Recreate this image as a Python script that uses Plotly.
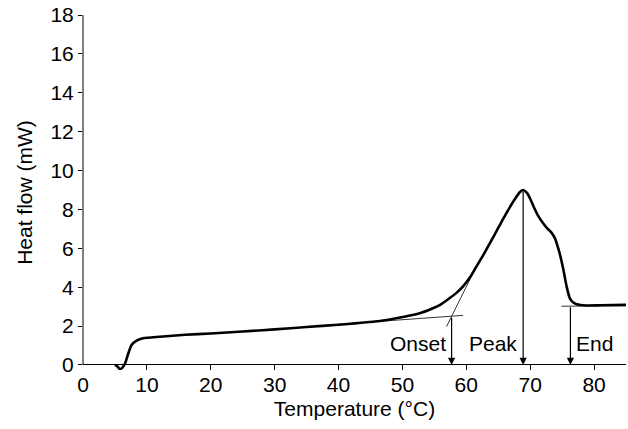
import plotly.graph_objects as go

# DSC curve
temperature = [5.0, 5.4, 5.8, 6.2, 6.6, 7.1, 7.6, 8.4, 9.4, 12, 16, 20, 25, 30, 35, 40, 43,
               46.5, 49, 52.7, 54.5, 55.9, 57.4, 58.5, 59.5, 60.6, 61.6, 62.7, 63.7, 64.4,
               65.0, 65.7, 66.3, 67.1, 67.9, 68.4, 68.9, 69.5, 70.0, 70.6, 71.3, 72.0, 72.6,
               73.3, 73.9, 74.3, 74.6, 75.2, 75.7, 76.2, 76.7, 77.3, 78.8, 81, 85]
heat_flow = [0.0, -0.08, -0.22, -0.12, 0.09, 0.6, 1.03, 1.25, 1.37, 1.45, 1.55, 1.62, 1.72,
             1.83, 1.95, 2.07, 2.15, 2.26, 2.4, 2.66, 2.88, 3.09, 3.44, 3.72, 4.04, 4.52,
             5.07, 5.67, 6.27, 6.68, 7.05, 7.47, 7.82, 8.27, 8.68, 8.9, 9.0, 8.85, 8.55,
             8.1, 7.64, 7.3, 7.05, 6.82, 6.5, 6.1, 5.76, 4.9, 4.04, 3.44, 3.22, 3.12, 3.06,
             3.07, 3.09]

# construction lines
baseline_x = [40, 59.5]
baseline_y = [2.09, 2.55]
tangent_x = [56.9, 61.4]
tangent_y = [1.97, 4.95]
end_line_x = [74.9, 85]
end_line_y = [3.02, 3.05]

# events: label, temperature, heat flow at arrow start
event_labels = ["Onset", "Peak", "End"]
event_temps = [57.7, 68.9, 76.3]
event_flows = [2.49, 9.0, 3.05]
label_y = 1.1

x_ticks = list(range(0, 90, 10))
y_ticks = list(range(0, 20, 2))

font = dict(family="Liberation Sans, Arial, sans-serif", size=21, color="black")

fig = go.Figure()
fig.add_trace(go.Scatter(x=baseline_x, y=baseline_y, mode="lines",
                         line=dict(color="black", width=0.8), hoverinfo="skip"))
fig.add_trace(go.Scatter(x=tangent_x, y=tangent_y, mode="lines",
                         line=dict(color="black", width=0.8), hoverinfo="skip"))
fig.add_trace(go.Scatter(x=end_line_x, y=end_line_y, mode="lines",
                         line=dict(color="black", width=0.8), hoverinfo="skip"))
fig.add_trace(go.Scatter(x=temperature, y=heat_flow, mode="lines",
                         line=dict(color="black", width=2.6, shape="spline", smoothing=0.6)))

annotations = []
for lab, t, f in zip(event_labels, event_temps, event_flows):
    annotations.append(dict(x=t, y=0, ax=t, ay=f, xref="x", yref="y", axref="x", ayref="y",
                            text="", showarrow=True, arrowhead=2, arrowsize=1.2,
                            arrowwidth=1.2, arrowcolor="black", standoff=0, startstandoff=0))
    right = lab != "End"
    annotations.append(dict(x=t - 0.6 if right else t + 0.6, y=label_y, xref="x", yref="y",
                            text=lab, showarrow=False,
                            xanchor="right" if right else "left", yanchor="middle",
                            font=font))

fig.update_layout(
    width=628, height=429,
    margin=dict(l=83, r=2, t=15, b=59),
    paper_bgcolor="white", plot_bgcolor="white",
    showlegend=False,
    font=font,
    annotations=annotations,
    shapes=[dict(type="line", xref="paper", x0=0, x1=0, yref="y", y0=0, y1=18,
                 line=dict(color="black", width=1))],
    xaxis=dict(range=[0, 85], tickvals=x_ticks, ticks="inside", ticklen=5, tickwidth=1,
               tickcolor="black", showgrid=False, showline=False, zeroline=False,
               title=dict(text="Temperature (°C)", font=font, standoff=6),
               tickfont=font),
    yaxis=dict(range=[-0.26, 18], tickvals=y_ticks, ticks="outside", ticklen=4, tickwidth=1,
               tickcolor="black", showgrid=False, showline=False, zeroline=True,
               zerolinecolor="black", zerolinewidth=1,
               title=dict(text="Heat flow (mW)", font=font, standoff=12),
               tickfont=font),
)

fig.write_html("out.html")
